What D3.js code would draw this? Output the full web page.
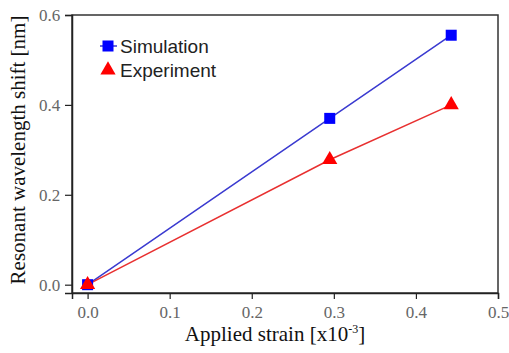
<!DOCTYPE html>
<html><head><meta charset="utf-8">
<script src="https://cdn.jsdelivr.net/npm/d3@7"></script>
<style>body{margin:0;background:#fff}svg{display:block}</style>
</head><body>
<script>
const strain = [0, 0.295, 0.443];
const simulation = [0, 0.37, 0.555];
const experiment = [0, 0.278, 0.40];
const xTicks = [0, 0.1, 0.2, 0.3, 0.4, 0.5];
const yTicks = [0, 0.2, 0.4, 0.6];
const seriesNames = ["Simulation", "Experiment"];

const W = 509, H = 353;
const svg = d3.select("body").append("svg").attr("width", W).attr("height", H);
const L = 72, R = 498, T = 15, B = 293;
const x = d3.scaleLinear().domain([-0.019, 0.5]).range([L, R]);
const y = d3.scaleLinear().domain([-0.0185, 0.6]).range([B, T]);

// frame
svg.append("rect").attr("x", L).attr("y", T).attr("width", R - L).attr("height", B - T)
  .attr("fill", "none").attr("stroke", "#333").attr("stroke-width", 1.5);

// axes
const xMinor = d3.range(0, 0.51, 0.05);
const yMinor = d3.range(0, 0.61, 0.04);
const gx = svg.append("g").attr("transform", `translate(0,${B})`);
gx.call(d3.axisBottom(x).tickValues(xMinor).tickSize(3).tickFormat(""));
gx.call(d3.axisBottom(x).tickValues(xTicks).tickSize(6).tickFormat(d3.format(".1f")));
const gy = svg.append("g").attr("transform", `translate(${L},0)`);
gy.call(d3.axisLeft(y).tickValues(yMinor).tickSize(4).tickFormat(""));
gy.call(d3.axisLeft(y).tickValues(yTicks).tickSize(7).tickFormat(d3.format(".1f")));
svg.selectAll(".domain").attr("stroke", "#222").attr("stroke-width", 1.5);
svg.selectAll(".tick line").attr("stroke", "#222").attr("stroke-width", 1.2);
svg.selectAll(".tick text").attr("font-family", "Liberation Serif").attr("font-size", 17).attr("fill", "#666");
gx.selectAll(".tick text").attr("dy", "0.95em");
gy.selectAll(".tick text").attr("dx", "-0.1em");

// titles
svg.append("text").attr("x", 275).attr("y", 341).attr("text-anchor", "middle")
  .attr("font-family", "Liberation Serif").attr("font-size", 21).attr("fill", "#111")
  .html('Applied strain [x10<tspan dy="-8" font-size="12">-3</tspan><tspan dy="8">]</tspan>');
svg.append("text").attr("transform", "translate(25,150) rotate(-90)").attr("text-anchor", "middle")
  .attr("font-family", "Liberation Serif").attr("font-size", 21).attr("fill", "#111")
  .text("Resonant wavelength shift [nm]");

const line = d3.line().x(d => x(d[0])).y(d => y(d[1]));
const simPts = strain.map((s, i) => [s, simulation[i]]);
const expPts = strain.map((s, i) => [s, experiment[i]]);

svg.append("path").datum(simPts).attr("d", line).attr("fill", "none").attr("stroke", "#3a3ad0").attr("stroke-width", 1.5);
svg.append("path").datum(expPts).attr("d", line).attr("fill", "none").attr("stroke", "#e83030").attr("stroke-width", 1.5);

const sq = 11;
svg.selectAll(".sq").data(simPts).enter().append("rect")
  .attr("x", d => x(d[0]) - sq / 2).attr("y", d => y(d[1]) - sq / 2)
  .attr("width", sq).attr("height", sq).attr("fill", "#0000ff");
const tri = d3.symbol().type(d3.symbolTriangle).size(100);
svg.selectAll(".tri").data(expPts).enter().append("path")
  .attr("transform", d => `translate(${x(d[0])},${y(d[1])})`)
  .attr("d", tri).attr("fill", "#ff0000");

// legend
const lg = svg.append("g");
lg.append("line").attr("x1", 100).attr("x2", 117).attr("y1", 46).attr("y2", 46).attr("stroke", "#3a3ad0").attr("stroke-width", 1.5);
lg.append("rect").attr("x", 102.5).attr("y", 40.5).attr("width", 11).attr("height", 11).attr("fill", "#0000ff");
lg.append("path").attr("transform", "translate(108,70)").attr("d", tri).attr("fill", "#ff0000");
lg.selectAll(".lt").data(seriesNames).enter().append("text")
  .attr("x", 120).attr("y", (d, i) => 53 + i * 24)
  .attr("font-family", "Liberation Sans").attr("font-size", 19).attr("fill", "#222")
  .text(d => d);
</script>
</body></html>
